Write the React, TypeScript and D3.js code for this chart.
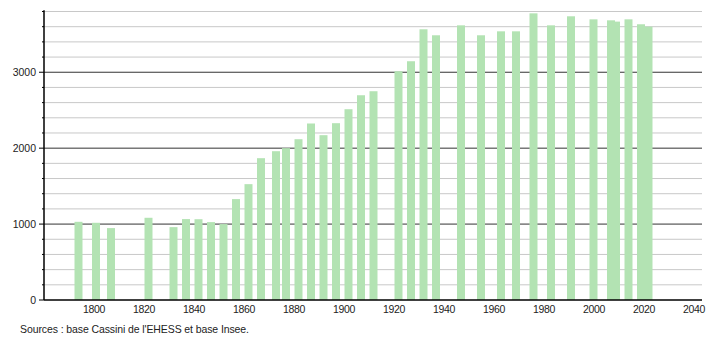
import React from "react";
import * as d3 from "d3";

const years = [1793, 1800, 1806, 1821, 1831, 1836, 1841, 1846, 1851, 1856, 1861, 1866, 1872, 1876, 1881, 1886, 1891, 1896, 1901, 1906, 1911, 1921, 1926, 1931, 1936, 1946, 1954, 1962, 1968, 1975, 1982, 1990, 1999, 2006, 2008, 2013, 2018, 2021];
const population = [1030, 1017, 947, 1083, 960, 1066, 1064, 1026, 1000, 1329, 1526, 1868, 1960, 2000, 2118, 2325, 2171, 2329, 2513, 2697, 2750, 3013, 3145, 3566, 3487, 3618, 3487, 3539, 3539, 3776, 3618, 3737, 3697, 3684, 3667, 3697, 3632, 3601];
const xTicks = [1800, 1820, 1840, 1860, 1880, 1900, 1920, 1940, 1960, 1980, 2000, 2020, 2040];
const yMajor = [0, 1000, 2000, 3000];
const sourceText = "Sources : base Cassini de l'EHESS et base Insee.";

export default function App() {
  const W = 710, H = 340;
  const left = 44, right = 702, top = 10.3, bottom = 300;
  const x = d3.scaleLinear().domain([1780, 2043.2]).range([left, right]);
  const y = d3.scaleLinear().domain([0, 3816]).range([bottom, top]);
  const minor = d3.range(200, 3801, 200).filter((v) => v % 1000 !== 0);
  const barW = 8;
  const font = "'Liberation Sans', Arial, sans-serif";
  return (
    <svg width={W} height={H} style={{ position: "absolute", left: 0, top: 0 }}>
      <rect width={W} height={H} fill="#fff" />
      {minor.map((v) => (
        <g key={"m" + v}>
          <line x1={left} x2={right} y1={y(v)} y2={y(v)} stroke="#c8c8c8" strokeWidth={1} />
          <line x1={left - 2} x2={left} y1={y(v)} y2={y(v)} stroke="#000" strokeWidth={1} />
        </g>
      ))}
      {yMajor.slice(1).map((v) => (
        <line key={"M" + v} x1={left} x2={right} y1={y(v)} y2={y(v)} stroke="#333" strokeWidth={1} />
      ))}
      {years.map((yr, i) => (
        <rect key={yr} x={x(yr) - barW / 2 + 2} y={y(population[i])} width={barW} height={bottom - y(population[i])} fill="#b3e3b3" />
      ))}
      <line x1={left} x2={left} y1={top} y2={bottom} stroke="#000" strokeWidth={1.5} />
      <line x1={left} x2={right} y1={bottom} y2={bottom} stroke="#000" strokeWidth={1.5} />
      {yMajor.map((v) => (
        <g key={"t" + v}>
          <line x1={left - 5} x2={left} y1={y(v)} y2={y(v)} stroke="#000" strokeWidth={1} />
          <text x={left - 8} y={y(v) + 4} textAnchor="end" fontFamily={font} fontSize={10.5} fill="#222">{v}</text>
        </g>
      ))}
      {xTicks.map((t) => (
        <text key={t} x={x(t)} y={313} textAnchor="middle" fontFamily={font} fontSize={10.5} fill="#222" letterSpacing={-0.3}>{t}</text>
      ))}
      <text x={20} y={333} fontFamily={font} fontSize={10.5} fill="#222" letterSpacing={-0.1}>{sourceText}</text>
    </svg>
  );
}
